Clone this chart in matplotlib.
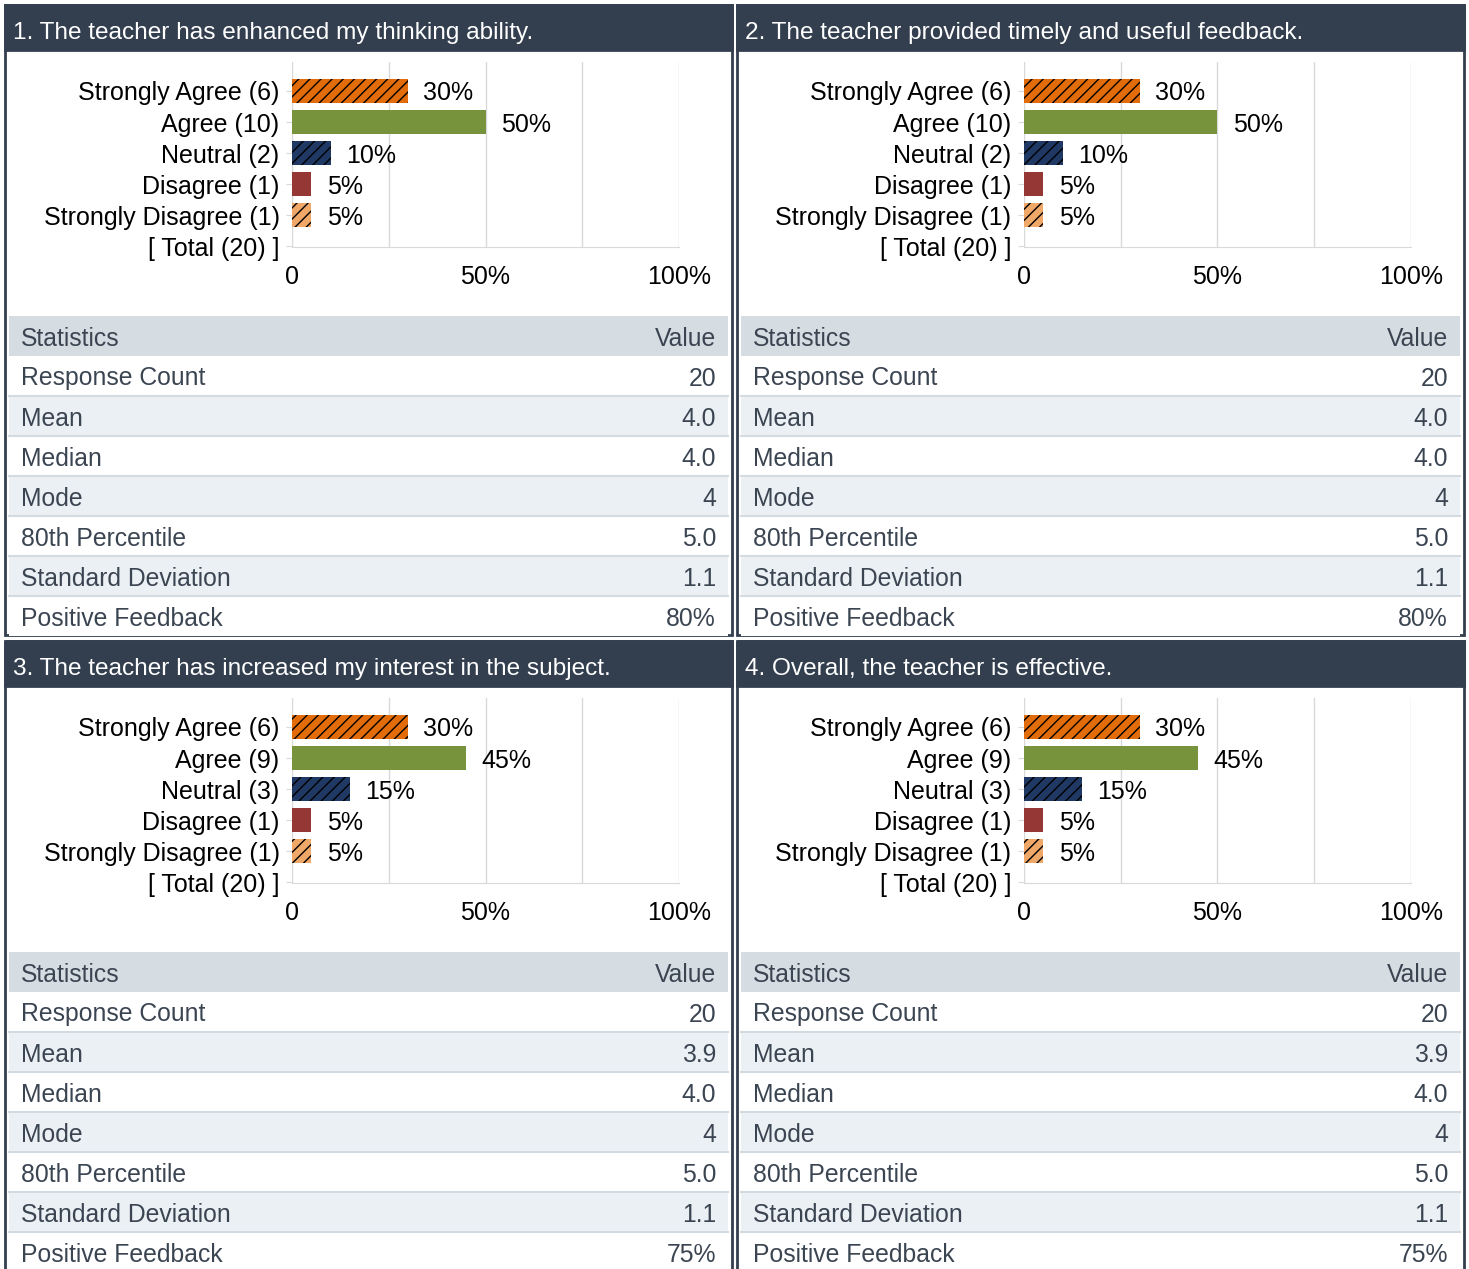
import matplotlib.pyplot as plt
from matplotlib.patches import Rectangle

W, H = 1469, 1269
plt.rcParams['font.family'] = ['Liberation Sans', 'DejaVu Sans']
plt.rcParams['hatch.linewidth'] = 1.0

titles = ["1. The teacher has enhanced my thinking ability.",
          "2. The teacher provided timely and useful feedback.",
          "3. The teacher has increased my interest in the subject.",
          "4. Overall, the teacher is effective."]
categories = ["Strongly Agree", "Agree", "Neutral", "Disagree", "Strongly Disagree"]
counts = [[6, 10, 2, 1, 1],
          [6, 10, 2, 1, 1],
          [6, 9, 3, 1, 1],
          [6, 9, 3, 1, 1]]
totals = [20, 20, 20, 20]

stat_names = ["Response Count", "Mean", "Median", "Mode", "80th Percentile",
              "Standard Deviation", "Positive Feedback"]
stat_values = [["20", "4.0", "4.0", "4", "5.0", "1.1", "80%"],
               ["20", "4.0", "4.0", "4", "5.0", "1.1", "80%"],
               ["20", "3.9", "4.0", "4", "5.0", "1.1", "75%"],
               ["20", "3.9", "4.0", "4", "5.0", "1.1", "75%"]]

bar_colors = ["#e36c0a", "#77933c", "#1f3864", "#953735", "#f0a868"]
bar_hatch = ["///", None, "///", None, "///"]

DARK = "#333f4f"
TXT = "#3b4552"

fig = plt.figure(figsize=(W / 100, H / 100), dpi=100)
bg = fig.add_axes([0, 0, 1, 1])
bg.set_xlim(0, W)
bg.set_ylim(H, 0)
bg.axis("off")


def px_axes(x0, y0, x1, y1):
    return fig.add_axes([x0 / W, 1 - y1 / H, (x1 - x0) / W, (y1 - y0) / H])


panels = [(5, 5), (737, 5), (5, 641), (737, 641)]
pw, ph = 727, 630

for q, (ox, oy) in enumerate(panels):
    # frame and title bar
    bg.add_patch(Rectangle((ox, oy), pw, ph, fill=False, ec=DARK, lw=2))
    bg.add_patch(Rectangle((ox, oy), pw, 45, fc=DARK, ec=DARK, lw=2))
    bg.text(ox + 8, oy + 25, titles[q], color="white", fontsize=17.6,
            va="center_baseline")

    # statistics table
    ty = oy + 311
    bg.add_patch(Rectangle((ox + 4, ty), pw - 8, 40, fc="#d6dde2", ec="none"))
    bg.text(ox + 16, ty + 20, "Statistics", color=TXT, fontsize=17.8,
            va="center_baseline")
    bg.text(ox + 711, ty + 20, "Value", color=TXT, fontsize=17.8,
            va="center_baseline", ha="right")
    for i, name in enumerate(stat_names):
        ry = ty + 40 * (i + 1)
        fc = "white" if i % 2 == 0 else "#ebf0f4"
        bg.add_patch(Rectangle((ox + 4, ry), pw - 8, 40, fc=fc, ec="none"))
        if i > 0:
            bg.plot([ox + 4, ox + pw - 4], [ry, ry], color="#d3dbe1", lw=1.5)
        bg.text(ox + 16, ry + 20, name, color=TXT, fontsize=17.8,
                va="center_baseline")
        bg.text(ox + 711, ry + 20, stat_values[q][i], color=TXT, fontsize=17.8,
                va="center_baseline", ha="right")

    # bar chart
    ax = px_axes(ox + 287, oy + 57, ox + 674, oy + 242)
    ax.set_facecolor("none")
    pct = [c / totals[q] * 100 for c in counts[q]]
    ypos = list(range(len(categories)))
    for i in ypos:
        ax.barh(i, pct[i], height=0.77, color=bar_colors[i], hatch=bar_hatch[i],
                edgecolor="black" if bar_hatch[i] else bar_colors[i], lw=0, zorder=3)
        ax.annotate(f"{pct[i]:.0f}%", (pct[i], i), xytext=(11, 0),
                    textcoords="offset points", va="center_baseline", fontsize=18)
    labels = [f"{c} ({n})" for c, n in zip(categories, counts[q])]
    labels.append(f"[ Total ({totals[q]}) ]")
    ax.set_yticks(range(len(labels)))
    ax.set_yticklabels(labels, fontsize=18, va="center_baseline")
    ax.set_ylim(5.03, -0.935)
    ax.set_xlim(0, 100)
    ax.set_xticks([0, 50, 100])
    ax.set_xticklabels(["0", "50%", "100%"], fontsize=18)
    ax.set_xticks([25, 75], minor=True)
    ax.grid(axis="x", which="both", color="#d9d9d9", lw=1, zorder=0)
    ax.tick_params(axis="x", which="both", length=0, pad=13)
    ax.tick_params(axis="y", length=4, color="#d9d9d9", pad=5)
    for s in ["top", "right", "left"]:
        ax.spines[s].set_visible(False)
    ax.spines["bottom"].set_color("#d9d9d9")

fig.savefig("out.png", dpi=100, facecolor="white")
